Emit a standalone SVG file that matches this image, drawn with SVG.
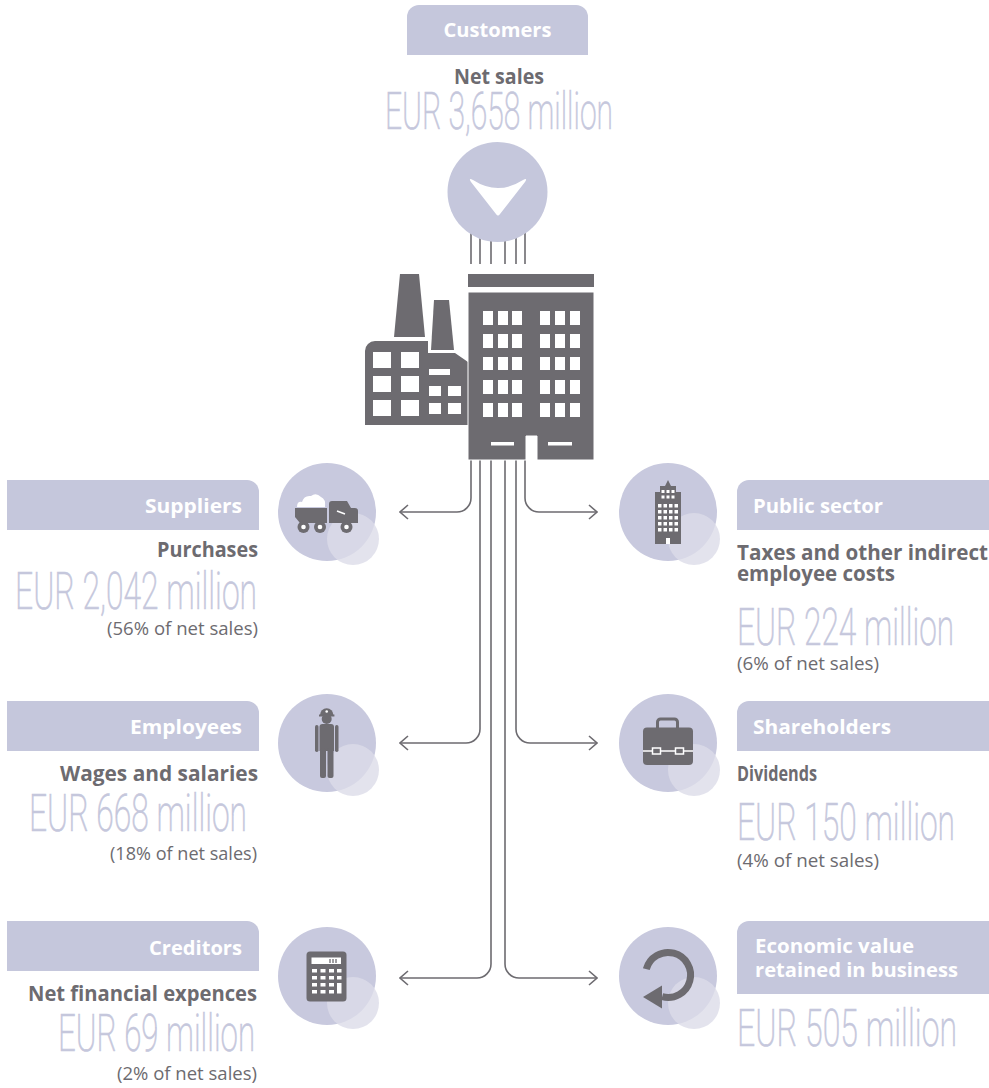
<svg xmlns="http://www.w3.org/2000/svg" width="989" height="1088" viewBox="0 0 989 1088">
  <style>
    .box { fill: #c5c7dc; }
    .disc { fill: #c8c9de; }
    .halo { fill: #dcdce9; opacity: 0.8; }
    .ink { fill: #6d6b70; }
    .hole { fill: #ffffff; }
    .title { font-family: "Open Sans", "Noto Sans", sans-serif; font-weight: 700; font-size: 20px; fill: #ffffff; }
    .head { font-family: "Open Sans", "Noto Sans", sans-serif; font-weight: 700; font-size: 20.5px; fill: #6d6b70; }
    .amount { font-family: Roboto, "Open Sans", sans-serif; font-weight: 200; font-size: 52px; fill: #c5c7dc; stroke: #c5c7dc; stroke-width: 0.6px; }
    .share { font-family: "Open Sans", "Noto Sans", sans-serif; font-weight: 400; font-size: 18px; fill: #6d6b70; }
    .flow { fill: none; stroke: #6d6b70; stroke-width: 1.6; }
  </style>
  <defs>
    <marker id="tip" viewBox="0 0 10 16" refX="9" refY="8" markerWidth="10" markerHeight="16" markerUnits="userSpaceOnUse" orient="auto">
      <path d="M1,1 L9,8 L1,15" fill="none" stroke="#6d6b70" stroke-width="1.6"/>
    </marker>
  </defs>

  <!-- flow lines -->
  <g id="connectors">
    <path class="flow" d="M471,230 V264 M480,230 V264 M491,230 V264 M505,230 V264 M516,230 V264 M525,230 V264"/>
    <path class="flow" d="M471,460 V498 A14,14 0 0 1 457,512 H400" marker-end="url(#tip)"/>
    <path class="flow" d="M525,460 V498 A14,14 0 0 0 539,512 H597" marker-end="url(#tip)"/>
    <path class="flow" d="M480,460 V729 A14,14 0 0 1 466,743 H400" marker-end="url(#tip)"/>
    <path class="flow" d="M516,460 V729 A14,14 0 0 0 530,743 H597" marker-end="url(#tip)"/>
    <path class="flow" d="M491,460 V964 A14,14 0 0 1 477,978 H400" marker-end="url(#tip)"/>
    <path class="flow" d="M505,460 V964 A14,14 0 0 0 519,978 H597" marker-end="url(#tip)"/>
  </g>

  <!-- customers -->
  <g id="customers">
    <path class="box" d="M407,55 V17 A12,12 0 0 1 419,5 H576 A12,12 0 0 1 588,17 V55 Z"/>
    <text class="title" x="497.5" y="37" text-anchor="middle" textLength="108" lengthAdjust="spacingAndGlyphs">Customers</text>
    <text class="head" x="499" y="84" text-anchor="middle" textLength="90" lengthAdjust="spacingAndGlyphs">Net sales</text>
    <text class="amount" x="499" y="129" text-anchor="middle" font-size="47" textLength="228" lengthAdjust="spacingAndGlyphs">EUR 3,658 million</text>
    <circle cx="497.5" cy="192" r="50" class="box"/>
    <path class="hole" d="M473,180 Q498,196 523,180 Q528,177 525,182 L500,214 Q498,217 496,214 L471,182 Q468,177 473,180 Z"/>
  </g>

  <!-- company -->
  <g id="company" class="ink">
    <polygon points="400,274 419,274 425,337 394,337"/>
    <polygon points="434,300 449,300 454,350 431,350"/>
    <path d="M365,425 V351 A10,10 0 0 1 375,341 H428 V353 H455 L468,362 V425 Z"/>
    <g class="hole">
      <rect x="373" y="352" width="18" height="16"/>
      <rect x="401" y="352" width="18" height="16"/>
      <rect x="373" y="376" width="18" height="16"/>
      <rect x="401" y="376" width="18" height="16"/>
      <rect x="373" y="400" width="18" height="16"/>
      <rect x="401" y="400" width="18" height="16"/>
      <rect x="429" y="369" width="21" height="6"/>
      <rect x="429" y="386" width="12" height="10"/>
      <rect x="448" y="386" width="13" height="10"/>
      <rect x="429" y="403" width="12" height="11"/>
      <rect x="448" y="403" width="13" height="11"/>
    </g>
    <rect x="468" y="274" width="126" height="13"/>
    <path d="M468,292 H594 V460 H537 V436 H526 V460 H468 Z" stroke="#ffffff" stroke-width="1"/>
    <g class="hole">
      <rect x="483" y="311" width="10" height="14"/><rect x="498" y="311" width="10" height="14"/><rect x="512" y="311" width="10" height="14"/>
      <rect x="540" y="311" width="10" height="14"/><rect x="555" y="311" width="10" height="14"/><rect x="570" y="311" width="10" height="14"/>
      <rect x="483" y="334" width="10" height="14"/><rect x="498" y="334" width="10" height="14"/><rect x="512" y="334" width="10" height="14"/>
      <rect x="540" y="334" width="10" height="14"/><rect x="555" y="334" width="10" height="14"/><rect x="570" y="334" width="10" height="14"/>
      <rect x="483" y="357" width="10" height="13"/><rect x="498" y="357" width="10" height="13"/><rect x="512" y="357" width="10" height="13"/>
      <rect x="540" y="357" width="10" height="13"/><rect x="555" y="357" width="10" height="13"/><rect x="570" y="357" width="10" height="13"/>
      <rect x="483" y="380" width="10" height="14"/><rect x="498" y="380" width="10" height="14"/><rect x="512" y="380" width="10" height="14"/>
      <rect x="540" y="380" width="10" height="14"/><rect x="555" y="380" width="10" height="14"/><rect x="570" y="380" width="10" height="14"/>
      <rect x="483" y="403" width="10" height="14"/><rect x="498" y="403" width="10" height="14"/><rect x="512" y="403" width="10" height="14"/>
      <rect x="540" y="403" width="10" height="14"/><rect x="555" y="403" width="10" height="14"/><rect x="570" y="403" width="10" height="14"/>
      <rect x="491" y="442" width="23" height="3.5"/>
      <rect x="548" y="442" width="24" height="3.5"/>
    </g>
  </g>

  <!-- suppliers -->
  <g id="suppliers">
    <path class="box" d="M7,480 H247 A12,12 0 0 1 259,492 V530 H7 Z"/>
    <text class="title" x="242" y="513" text-anchor="end" textLength="97" lengthAdjust="spacingAndGlyphs">Suppliers</text>
    <text class="head" x="258" y="557" text-anchor="end" textLength="101" lengthAdjust="spacingAndGlyphs">Purchases</text>
    <text class="amount" x="257" y="609" text-anchor="end" textLength="242" lengthAdjust="spacingAndGlyphs">EUR 2,042 million</text>
    <text class="share" x="258" y="635" text-anchor="end" textLength="151" lengthAdjust="spacingAndGlyphs">(56% of net sales)</text>
    <circle cx="327" cy="512" r="49" class="disc"/>
    <circle cx="353" cy="539" r="26" class="halo"/>
    <g class="ink">
      <path d="M295,508 H327 V523 H300 L295,517 Z"/>
      <path d="M329,523 V504 A3,3 0 0 1 332,501 H347 L351,508 H355 A3,3 0 0 1 358,511 V523 Z"/>
      <circle cx="303.5" cy="527" r="6"/>
      <circle cx="320" cy="527" r="6"/>
      <circle cx="346.5" cy="527" r="6"/>
    </g>
    <g class="hole">
      <path d="M297,507 Q297,501 302,502 Q304,495 311,496 Q316,492 321,497 Q326,499 325,507 Z"/>
      <path d="M337,511 L345,514" stroke="#ffffff" stroke-width="1.6"/>
      <circle cx="303.5" cy="527" r="2.3"/>
      <circle cx="320" cy="527" r="2.3"/>
      <circle cx="346.5" cy="527" r="2.3"/>
    </g>
  </g>

  <!-- public sector -->
  <g id="public-sector">
    <path class="box" d="M989,480 H749 A12,12 0 0 0 737,492 V530 H989 Z"/>
    <text class="title" x="753" y="513" textLength="130" lengthAdjust="spacingAndGlyphs">Public sector</text>
    <text class="head" x="737" y="560" textLength="251" lengthAdjust="spacingAndGlyphs">Taxes and other indirect</text>
    <text class="head" x="737" y="581" textLength="158" lengthAdjust="spacingAndGlyphs">employee costs</text>
    <text class="amount" x="737" y="645" textLength="217" lengthAdjust="spacingAndGlyphs">EUR 224 million</text>
    <text class="share" x="737" y="670" textLength="142" lengthAdjust="spacingAndGlyphs">(6% of net sales)</text>
    <circle cx="668" cy="512" r="49" class="disc"/>
    <circle cx="694" cy="539" r="26" class="halo"/>
    <path class="ink" d="M668,480 L671,486 H676 V492 H681 V544 H655 V492 H660 V486 H665 Z"/>
    <g class="hole">
      <rect x="661.5" y="490" width="3" height="3"/><rect x="666.5" y="490" width="3" height="3"/><rect x="671.5" y="490" width="3" height="3"/>
      <rect x="661.5" y="495.5" width="3" height="3"/><rect x="666.5" y="495.5" width="3" height="3"/><rect x="671.5" y="495.5" width="3" height="3"/>
      <rect x="658" y="504" width="3.5" height="3.5"/><rect x="663.5" y="504" width="3.5" height="3.5"/><rect x="669" y="504" width="3.5" height="3.5"/><rect x="674.5" y="504" width="3.5" height="3.5"/>
      <rect x="658" y="510" width="3.5" height="3.5"/><rect x="663.5" y="510" width="3.5" height="3.5"/><rect x="669" y="510" width="3.5" height="3.5"/><rect x="674.5" y="510" width="3.5" height="3.5"/>
      <rect x="658" y="516" width="3.5" height="3.5"/><rect x="663.5" y="516" width="3.5" height="3.5"/><rect x="669" y="516" width="3.5" height="3.5"/><rect x="674.5" y="516" width="3.5" height="3.5"/>
      <rect x="658" y="522" width="3.5" height="3.5"/><rect x="663.5" y="522" width="3.5" height="3.5"/><rect x="669" y="522" width="3.5" height="3.5"/><rect x="674.5" y="522" width="3.5" height="3.5"/>
      <rect x="658" y="528" width="3.5" height="3.5"/><rect x="663.5" y="528" width="3.5" height="3.5"/><rect x="669" y="528" width="3.5" height="3.5"/><rect x="674.5" y="528" width="3.5" height="3.5"/>
      <rect x="666" y="538" width="4" height="6"/>
    </g>
  </g>

  <!-- employees -->
  <g id="employees">
    <path class="box" d="M7,701 H247 A12,12 0 0 1 259,713 V751 H7 Z"/>
    <text class="title" x="242" y="734" text-anchor="end" textLength="112" lengthAdjust="spacingAndGlyphs">Employees</text>
    <text class="head" x="258" y="781" text-anchor="end" textLength="198" lengthAdjust="spacingAndGlyphs">Wages and salaries</text>
    <text class="amount" x="247" y="831" text-anchor="end" textLength="218" lengthAdjust="spacingAndGlyphs">EUR 668 million</text>
    <text class="share" x="257" y="860" text-anchor="end" textLength="147" lengthAdjust="spacingAndGlyphs">(18% of net sales)</text>
    <circle cx="327" cy="743" r="49" class="disc"/>
    <circle cx="353" cy="770" r="26" class="halo"/>
    <g class="ink">
      <path d="M320,715 A6.7,6.7 0 0 1 333.4,715 Z"/>
      <rect x="319" y="714.5" width="15.4" height="2"/>
      <circle cx="326.7" cy="719" r="5"/>
      <path d="M319.5,751 V727 A3,3 0 0 1 322.5,724 H331 A3,3 0 0 1 334,727 V751 Z"/>
      <rect x="315" y="725" width="3.5" height="27" rx="1.7"/>
      <rect x="335" y="725" width="3.5" height="27" rx="1.7"/>
      <rect x="320" y="748" width="6" height="30" rx="2"/>
      <rect x="327.5" y="748" width="6" height="30" rx="2"/>
    </g>
    <circle cx="326.7" cy="711.5" r="1.3" class="hole"/>
  </g>

  <!-- shareholders -->
  <g id="shareholders">
    <path class="box" d="M989,701 H749 A12,12 0 0 0 737,713 V751 H989 Z"/>
    <text class="title" x="753" y="734" textLength="138" lengthAdjust="spacingAndGlyphs">Shareholders</text>
    <text class="head" x="737" y="781" textLength="80" lengthAdjust="spacingAndGlyphs">Dividends</text>
    <text class="amount" x="737" y="840" textLength="218" lengthAdjust="spacingAndGlyphs">EUR 150 million</text>
    <text class="share" x="737" y="867" textLength="142" lengthAdjust="spacingAndGlyphs">(4% of net sales)</text>
    <circle cx="668" cy="743" r="49" class="disc"/>
    <circle cx="694" cy="770" r="26" class="halo"/>
    <path d="M657.5,728 V722 A3,3 0 0 1 660.5,719 H674.5 A3,3 0 0 1 677.5,722 V728" fill="none" stroke="#6d6b70" stroke-width="3"/>
    <rect x="643" y="727.5" width="50" height="37.5" rx="4" class="ink"/>
    <path d="M643,751 H652 M661,751 H675 M684,751 H693" stroke="#ffffff" stroke-width="1.6"/>
    <rect x="652.5" y="748" width="8" height="6" fill="none" stroke="#ffffff" stroke-width="1.5"/>
    <rect x="675.5" y="748" width="8" height="6" fill="none" stroke="#ffffff" stroke-width="1.5"/>
  </g>

  <!-- creditors -->
  <g id="creditors">
    <path class="box" d="M7,921 H247 A12,12 0 0 1 259,933 V971 H7 Z"/>
    <text class="title" x="242" y="955" text-anchor="end" textLength="93" lengthAdjust="spacingAndGlyphs">Creditors</text>
    <text class="head" x="257" y="1001" text-anchor="end" textLength="229" lengthAdjust="spacingAndGlyphs">Net financial expences</text>
    <text class="amount" x="255" y="1051" text-anchor="end" textLength="197" lengthAdjust="spacingAndGlyphs">EUR 69 million</text>
    <text class="share" x="257" y="1080" text-anchor="end" textLength="140" lengthAdjust="spacingAndGlyphs">(2% of net sales)</text>
    <circle cx="327" cy="976" r="49" class="disc"/>
    <circle cx="353" cy="1003" r="26" class="halo"/>
    <rect x="306.5" y="951.5" width="40" height="50" rx="3.5" class="ink"/>
    <g class="hole">
      <rect x="311.5" y="957.5" width="29.5" height="6.5"/>
      <rect x="312" y="969" width="5" height="3.5"/><rect x="320.5" y="969" width="5" height="3.5"/><rect x="329" y="969" width="5" height="3.5"/><rect x="337" y="969" width="4.5" height="3.5"/>
      <rect x="312" y="976" width="5" height="3.5"/><rect x="320.5" y="976" width="5" height="3.5"/><rect x="329" y="976" width="5" height="3.5"/><rect x="337" y="976" width="4.5" height="3.5"/>
      <rect x="312" y="983" width="5" height="3.5"/><rect x="320.5" y="983" width="5" height="3.5"/><rect x="329" y="983" width="5" height="3.5"/><rect x="337" y="983" width="4.5" height="10.5"/>
      <rect x="312" y="990" width="5" height="3.5"/><rect x="320.5" y="990" width="5" height="3.5"/><rect x="329" y="990" width="5" height="3.5"/>
    </g>
    <path d="M330,959 V963 M333,959 V963 M336,959 V963" stroke="#6d6b70" stroke-width="1.3"/>
  </g>

  <!-- retained value -->
  <g id="retained">
    <path class="box" d="M989,921 H749 A12,12 0 0 0 737,933 V994 H989 Z"/>
    <text class="title" x="755" y="953" textLength="159" lengthAdjust="spacingAndGlyphs">Economic value</text>
    <text class="title" x="755" y="977" textLength="203" lengthAdjust="spacingAndGlyphs">retained in business</text>
    <text class="amount" x="737" y="1046" textLength="220" lengthAdjust="spacingAndGlyphs">EUR 505 million</text>
    <circle cx="668" cy="976" r="49" class="disc"/>
    <circle cx="694" cy="1003" r="26" class="halo"/>
    <path d="M646.3,969.2 A22.5,22.5 0 1 1 662.2,996.7" fill="none" stroke="#6d6b70" stroke-width="7"/>
    <polygon points="643,997 662,985.5 662,1008.5" class="ink"/>
  </g>
</svg>
